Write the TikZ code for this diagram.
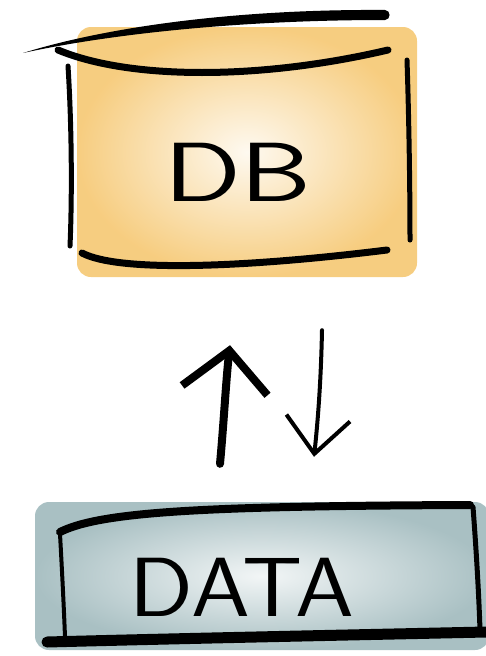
\documentclass[tikz,border=0pt]{standalone}
\usetikzlibrary{arrows.meta}

\definecolor{dbfill}{HTML}{F5C469}
\definecolor{datafill}{HTML}{A9C0C3}

\tikzset{
    pen/.style={line width=#1, line cap=round, line join=round, black},
    pen/.default=5pt,
    dbbox/.style={minimum width=340pt, minimum height=250pt, rounded corners=14pt, inner color=dbfill!10, outer color=dbfill!85},
    databox/.style={minimum width=454pt, minimum height=148pt, rounded corners=14pt, inner color=datafill!15, outer color=datafill},
    hand/.style={font=\sffamily\fontsize{84}{84}\selectfont}
}

\begin{document}
\begin{tikzpicture}[x=1pt, y=-1pt]
    \useasboundingbox (0,0) rectangle (486,656);

    \node[dbbox] (db) at (247,152) {};
    \node[databox] (data) at (262,576) {};

    \node[hand] (dbtext) at (238,172) {\scalebox{1.35}[1]{DB}};
    \node[hand] (datatext) at (242,587) {\scalebox{1.12}[1]{DATA}};

    % DB outline
    \fill (23,53) .. controls (110,26) and (240,9) .. (385,10)
        .. controls (391,10) and (391,20) .. (385,20)
        .. controls (240,20) and (110,34) .. (23,53) -- cycle;
    \draw[pen=7pt] (58,50) .. controls (130,80) and (260,80) .. (388,50);
    \draw[pen=5pt] (68,66) .. controls (72,130) and (72,200) .. (70,246);
    \draw[pen=5pt] (407,60) .. controls (409,120) and (410,190) .. (410,240);
    \draw[pen=7pt] (82,253) .. controls (120,273) and (250,267) .. (387,250);

    % DATA outline
    \draw[pen=8pt] (60,532) .. controls (100,512) and (200,506) .. (470,505);
    \draw[pen=5pt] (473,507) .. controls (477,560) and (479,600) .. (480,630);
    \draw[pen=4pt] (60,534) .. controls (62,570) and (64,610) .. (65,637);
    \draw[pen=11pt] (47,642) .. controls (200,638) and (350,635) .. (486,632);

    % arrows between the stores
    \draw[pen=8pt, -{Straight Barb[length=40pt, width=86pt]}]
        ([xshift=-42pt, yshift=38pt]data.north) .. controls (224,420) and (226,380) .. ([xshift=-17pt, yshift=-68pt]db.south);
    \draw[pen=4pt, -{Straight Barb[length=36pt, width=64pt]}]
        ([xshift=75pt, yshift=-53pt]db.south) .. controls (321,380) and (318,420) .. ([xshift=52pt, yshift=45pt]data.north);
\end{tikzpicture}
\end{document}
